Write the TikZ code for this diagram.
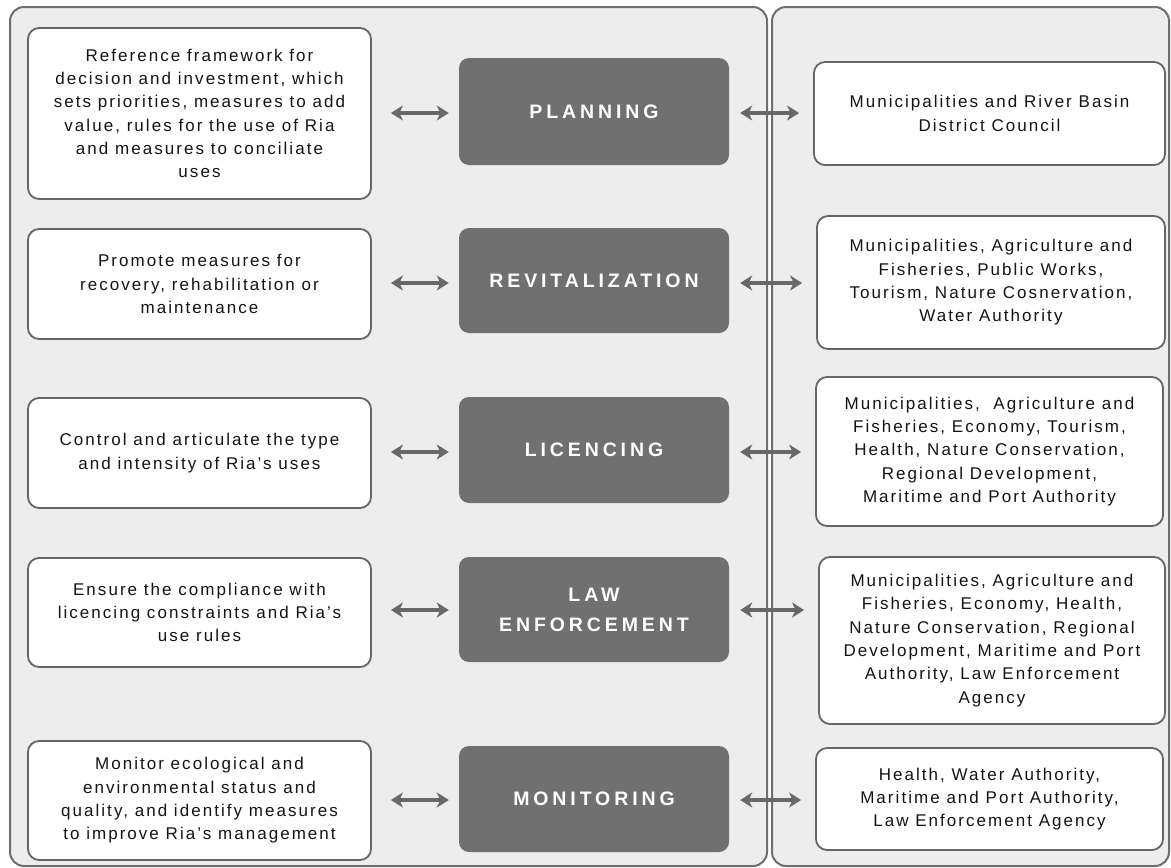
\documentclass[tikz,border=0pt]{standalone}
\usepackage{fontspec}
\setmainfont{Liberation Sans}[LetterSpace=12]
\newfontfamily\stagefont{Liberation Sans}[LetterSpace=20]
\usetikzlibrary{arrows.meta}

\definecolor{panelfill}{HTML}{EDEDED}
\definecolor{panelline}{HTML}{6E6E6E}
\definecolor{stagefill}{HTML}{707070}
\definecolor{boxline}{HTML}{666666}
\definecolor{linkcol}{HTML}{686868}
\definecolor{bodytext}{HTML}{141414}

\tikzset{
  panel/.style={draw=panelline, line width=2pt, fill=panelfill, rounded corners=14pt},
  infobox/.style={draw=boxline, line width=1.8pt, fill=white, rounded corners=11pt,
    align=center, inner sep=0pt, text=bodytext,
    font=\fontsize{17}{23.3}\selectfont},
  stagebox/.style={fill=stagefill, rounded corners=10pt, minimum width=270pt,
    inner sep=0pt, align=center, text=white,
    font=\stagefont\bfseries\fontsize{19.5}{30}\selectfont},
  link/.style={{Stealth[length=12pt,width=15pt,inset=3.5pt]}-{Stealth[length=12pt,width=15pt,inset=3.5pt]},
    draw=linkcol, line width=3.2pt},
  leftlink/.style={link, shorten <=19pt, shorten >=10pt},
  rightlink/.style={link, shorten <=11pt, shorten >=14pt}
}

\begin{document}
\begin{tikzpicture}[x=1pt,y=-1pt]
  \useasboundingbox (0,0) rectangle (1171,868);
  \fill[white] (0,0) rectangle (1171,868);

  % two background panels
  \draw[panel] (10,7) rectangle (767,866);
  \draw[panel] (772,7) rectangle (1169,866);

  % left column: purposes
  \node[infobox, minimum width=343pt, minimum height=171pt] (L1) at (199.5,113.5)
    {Reference framework for\\decision and investment, which\\sets priorities, measures to add\\value, rules for the use of Ria\\and measures to conciliate\\uses};
  \node[infobox, minimum width=343pt, minimum height=110pt] (L2) at (199.5,284)
    {Promote measures for\\recovery, rehabilitation or\\maintenance};
  \node[infobox, minimum width=343pt, minimum height=110pt] (L3) at (199.5,453)
    {Control and articulate the type\\and intensity of Ria's uses};
  \node[infobox, minimum width=343pt, minimum height=109pt] (L4) at (199.5,612.5)
    {Ensure the compliance with\\licencing constraints and Ria's\\use rules};
  \node[infobox, minimum width=343pt, minimum height=119pt] (L5) at (199.5,800.5)
    {Monitor ecological and\\environmental status and\\quality, and identify measures\\to improve Ria's management};

  % middle column: stages
  \node[stagebox, minimum height=107pt] (D1) at (594,111.5) {PLANNING};
  \node[stagebox, minimum height=105pt] (D2) at (594,280.5) {REVITALIZATION};
  \node[stagebox, minimum height=106pt] (D3) at (594,450) {LICENCING};
  \node[stagebox, minimum height=105pt] (D4) at (594,609.5) {LAW\\ENFORCEMENT};
  \node[stagebox, minimum height=106pt] (D5) at (594,799) {MONITORING};

  % right column: responsible bodies
  \node[infobox, minimum width=351pt, minimum height=103pt] (R1) at (989.5,113.5)
    {Municipalities and River Basin\\District Council};
  \node[infobox, minimum width=348pt, minimum height=133pt] (R2) at (991,282.5)
    {Municipalities, Agriculture and\\Fisheries, Public Works,\\Tourism, Nature Cosnervation,\\Water Authority};
  \node[infobox, minimum width=347pt, minimum height=149pt] (R3) at (989.5,451.5)
    {Municipalities,\ \ Agriculture and\\Fisheries, Economy, Tourism,\\Health, Nature Conservation,\\Regional Development,\\Maritime and Port Authority};
  \node[infobox, minimum width=346pt, minimum height=167pt] (R4) at (992,640.5)
    {Municipalities, Agriculture and\\Fisheries, Economy, Health,\\Nature Conservation, Regional\\Development, Maritime and Port\\Authority, Law Enforcement\\Agency};
  \node[infobox, minimum width=347pt, minimum height=102pt] (R5) at (989.5,799)
    {Health, Water Authority,\\Maritime and Port Authority,\\Law Enforcement Agency};

  % two-way links
  \foreach \i/\yy in {1/113,2/283,3/452,4/610,5/800}{
    \draw[leftlink] (L\i.east |- 0,\yy) -- (D\i.west |- 0,\yy);
    \draw[rightlink] (D\i.east |- 0,\yy) -- (R\i.west |- 0,\yy);
  }
\end{tikzpicture}
\end{document}
